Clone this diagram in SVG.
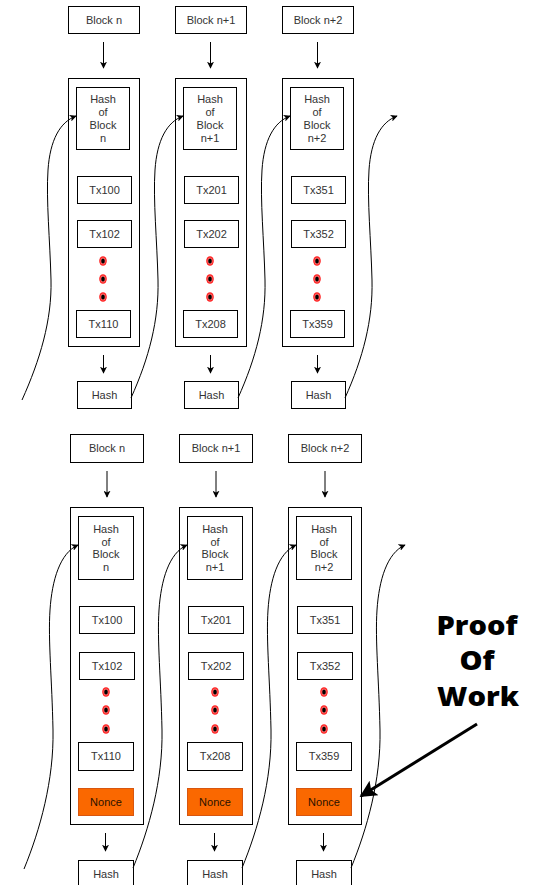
<svg xmlns="http://www.w3.org/2000/svg" width="539" height="885" viewBox="0 0 539 885">
  <defs>
    <style>
      .box { fill: #ffffff; stroke: #000000; stroke-width: 1; }
      .nonce { fill: #fa6800; stroke: #d8560f; stroke-width: 1; }
      .lbl { font-family: "Liberation Sans", Arial, sans-serif; font-size: 11px; fill: #333333; text-anchor: middle; }
      .nlbl { font-family: "Liberation Sans", Arial, sans-serif; font-size: 11px; fill: #2a1200; text-anchor: middle; }
      .arr { fill: none; stroke: #000000; stroke-width: 1; marker-end: url(#head); }
      .link { fill: none; stroke: #000000; stroke-width: 1; marker-end: url(#head); }
      .pow { font-family: "Open Sans", "Noto Sans", sans-serif; font-weight: 800; font-size: 27px; fill: #000000; text-anchor: middle; }
    </style>
    <marker id="head" viewBox="0 0 10 10" refX="9" refY="5" markerWidth="7" markerHeight="7" markerUnits="userSpaceOnUse" orient="auto">
      <path d="M0,0 L10,5 L0,10 L2.5,5 Z" fill="#000000"/>
    </marker>
    <marker id="bighead" viewBox="0 0 10 10" refX="9" refY="5" markerWidth="19" markerHeight="17" markerUnits="userSpaceOnUse" orient="auto">
      <path d="M0,0 L10,5 L0,10 L2,5 Z" fill="#000000"/>
    </marker>
    <!-- ellipsis dot: red ring around a black core -->
    <g id="dot">
      <ellipse cx="0" cy="0" rx="3.8" ry="4.8" fill="#ff2020"/>
      <ellipse cx="0" cy="0" rx="2.6" ry="3.5" fill="#ffffff" opacity="0.35"/>
      <ellipse cx="0" cy="0" rx="1.8" ry="2.6" fill="#000000"/>
    </g>
  </defs>

  <!-- ===== Upper chain (without nonce) ===== -->
  <g id="top-block-n" transform="translate(68,0)">
    <rect class="box" x="0.5" y="6.5" width="71" height="27"/>
    <text class="lbl" x="36" y="23.5">Block n</text>
    <path class="arr" d="M35.5,42 L35.5,68"/>
    <rect class="box" x="0.5" y="78.5" width="71" height="268"/>
    <rect class="box" x="8.5" y="87.5" width="53" height="62"/>
    <text class="lbl" x="35" y="103">Hash</text>
    <text class="lbl" x="35" y="116">of</text>
    <text class="lbl" x="35" y="129">Block</text>
    <text class="lbl" x="35" y="141.5">n</text>
    <rect class="box" x="9.5" y="176.5" width="54" height="27"/>
    <text class="lbl" x="36.5" y="193.5">Tx100</text>
    <rect class="box" x="9.5" y="220.5" width="54" height="27"/>
    <text class="lbl" x="36.5" y="238">Tx102</text>
    <use href="#dot" x="35" y="261"/>
    <use href="#dot" x="35" y="279"/>
    <use href="#dot" x="35" y="297"/>
    <rect class="box" x="8.5" y="310.5" width="54" height="27"/>
    <text class="lbl" x="35.5" y="327.5">Tx110</text>
    <path class="arr" d="M35.5,355 L35.5,373"/>
    <rect class="box" x="9.5" y="381.5" width="54" height="27"/>
    <text class="lbl" x="36.5" y="399">Hash</text>
  </g>

  <g id="top-block-n1" transform="translate(175,0)">
    <rect class="box" x="0.5" y="6.5" width="71" height="27"/>
    <text class="lbl" x="36" y="23.5">Block n+1</text>
    <path class="arr" d="M35.5,42 L35.5,68"/>
    <rect class="box" x="0.5" y="78.5" width="71" height="268"/>
    <rect class="box" x="8.5" y="87.5" width="53" height="62"/>
    <text class="lbl" x="35" y="103">Hash</text>
    <text class="lbl" x="35" y="116">of</text>
    <text class="lbl" x="35" y="129">Block</text>
    <text class="lbl" x="35" y="141.5">n+1</text>
    <rect class="box" x="9.5" y="176.5" width="54" height="27"/>
    <text class="lbl" x="36.5" y="193.5">Tx201</text>
    <rect class="box" x="9.5" y="220.5" width="54" height="27"/>
    <text class="lbl" x="36.5" y="238">Tx202</text>
    <use href="#dot" x="35" y="261"/>
    <use href="#dot" x="35" y="279"/>
    <use href="#dot" x="35" y="297"/>
    <rect class="box" x="8.5" y="310.5" width="54" height="27"/>
    <text class="lbl" x="35.5" y="327.5">Tx208</text>
    <path class="arr" d="M35.5,355 L35.5,373"/>
    <rect class="box" x="9.5" y="381.5" width="54" height="27"/>
    <text class="lbl" x="36.5" y="399">Hash</text>
  </g>

  <g id="top-block-n2" transform="translate(282,0)">
    <rect class="box" x="0.5" y="6.5" width="71" height="27"/>
    <text class="lbl" x="36" y="23.5">Block n+2</text>
    <path class="arr" d="M35.5,42 L35.5,68"/>
    <rect class="box" x="0.5" y="78.5" width="71" height="268"/>
    <rect class="box" x="8.5" y="87.5" width="53" height="62"/>
    <text class="lbl" x="35" y="103">Hash</text>
    <text class="lbl" x="35" y="116">of</text>
    <text class="lbl" x="35" y="129">Block</text>
    <text class="lbl" x="35" y="141.5">n+2</text>
    <rect class="box" x="9.5" y="176.5" width="54" height="27"/>
    <text class="lbl" x="36.5" y="193.5">Tx351</text>
    <rect class="box" x="9.5" y="220.5" width="54" height="27"/>
    <text class="lbl" x="36.5" y="238">Tx352</text>
    <use href="#dot" x="35" y="261"/>
    <use href="#dot" x="35" y="279"/>
    <use href="#dot" x="35" y="297"/>
    <rect class="box" x="8.5" y="310.5" width="54" height="27"/>
    <text class="lbl" x="35.5" y="327.5">Tx359</text>
    <path class="arr" d="M35.5,355 L35.5,373"/>
    <rect class="box" x="9.5" y="381.5" width="54" height="27"/>
    <text class="lbl" x="36.5" y="399">Hash</text>
  </g>

  <!-- ===== Lower chain (with nonce) ===== -->
  <g id="bottom-block-n" transform="translate(70,0)">
    <rect class="box" x="0.5" y="434.5" width="73" height="28"/>
    <text class="lbl" x="37" y="452">Block n</text>
    <path class="arr" d="M37,471 L37,497"/>
    <rect class="box" x="0.5" y="507.5" width="73" height="317"/>
    <rect class="box" x="8.5" y="516.5" width="55" height="63"/>
    <text class="lbl" x="36" y="533">Hash</text>
    <text class="lbl" x="36" y="545.5">of</text>
    <text class="lbl" x="36" y="558">Block</text>
    <text class="lbl" x="36" y="571">n</text>
    <rect class="box" x="9.5" y="606.5" width="55" height="27"/>
    <text class="lbl" x="37" y="624">Tx100</text>
    <rect class="box" x="9.5" y="652.5" width="55" height="27"/>
    <text class="lbl" x="37" y="670">Tx102</text>
    <use href="#dot" x="36" y="692"/>
    <use href="#dot" x="36" y="710"/>
    <use href="#dot" x="36" y="729"/>
    <rect class="box" x="8.5" y="742.5" width="55" height="28"/>
    <text class="lbl" x="36" y="760">Tx110</text>
    <rect class="nonce" x="8.5" y="788.5" width="55" height="27"/>
    <text class="nlbl" x="36" y="806">Nonce</text>
    <path class="arr" d="M35.5,833 L35.5,851"/>
    <rect class="box" x="8.5" y="860.5" width="55" height="28"/>
    <text class="lbl" x="36" y="878">Hash</text>
  </g>

  <g id="bottom-block-n1" transform="translate(179,0)">
    <rect class="box" x="0.5" y="434.5" width="73" height="28"/>
    <text class="lbl" x="37" y="452">Block n+1</text>
    <path class="arr" d="M37,471 L37,497"/>
    <rect class="box" x="0.5" y="507.5" width="73" height="317"/>
    <rect class="box" x="8.5" y="516.5" width="55" height="63"/>
    <text class="lbl" x="36" y="533">Hash</text>
    <text class="lbl" x="36" y="545.5">of</text>
    <text class="lbl" x="36" y="558">Block</text>
    <text class="lbl" x="36" y="571">n+1</text>
    <rect class="box" x="9.5" y="606.5" width="55" height="27"/>
    <text class="lbl" x="37" y="624">Tx201</text>
    <rect class="box" x="9.5" y="652.5" width="55" height="27"/>
    <text class="lbl" x="37" y="670">Tx202</text>
    <use href="#dot" x="36" y="692"/>
    <use href="#dot" x="36" y="710"/>
    <use href="#dot" x="36" y="729"/>
    <rect class="box" x="8.5" y="742.5" width="55" height="28"/>
    <text class="lbl" x="36" y="760">Tx208</text>
    <rect class="nonce" x="8.5" y="788.5" width="55" height="27"/>
    <text class="nlbl" x="36" y="806">Nonce</text>
    <path class="arr" d="M35.5,833 L35.5,851"/>
    <rect class="box" x="8.5" y="860.5" width="55" height="28"/>
    <text class="lbl" x="36" y="878">Hash</text>
  </g>

  <g id="bottom-block-n2" transform="translate(288,0)">
    <rect class="box" x="0.5" y="434.5" width="73" height="28"/>
    <text class="lbl" x="37" y="452">Block n+2</text>
    <path class="arr" d="M37,471 L37,497"/>
    <rect class="box" x="0.5" y="507.5" width="73" height="317"/>
    <rect class="box" x="8.5" y="516.5" width="55" height="63"/>
    <text class="lbl" x="36" y="533">Hash</text>
    <text class="lbl" x="36" y="545.5">of</text>
    <text class="lbl" x="36" y="558">Block</text>
    <text class="lbl" x="36" y="571">n+2</text>
    <rect class="box" x="9.5" y="606.5" width="55" height="27"/>
    <text class="lbl" x="37" y="624">Tx351</text>
    <rect class="box" x="9.5" y="652.5" width="55" height="27"/>
    <text class="lbl" x="37" y="670">Tx352</text>
    <use href="#dot" x="36" y="692"/>
    <use href="#dot" x="36" y="710"/>
    <use href="#dot" x="36" y="729"/>
    <rect class="box" x="8.5" y="742.5" width="55" height="28"/>
    <text class="lbl" x="36" y="760">Tx359</text>
    <rect class="nonce" x="8.5" y="788.5" width="55" height="27"/>
    <text class="nlbl" x="36" y="806">Nonce</text>
    <path class="arr" d="M35.5,833 L35.5,851"/>
    <rect class="box" x="8.5" y="860.5" width="55" height="28"/>
    <text class="lbl" x="36" y="878">Hash</text>
  </g>

  <!-- ===== Hash links between consecutive blocks ===== -->
  <g id="connectors">
    <!-- upper chain -->
    <path class="link" d="M22,400 C40,360 52,320 51,280 C50,240 46,200 48,170 C50,140 60,122 76,116"/>
    <path class="link" d="M131,398 C149,358 159,320 158,280 C157,240 153,200 155,170 C157,140 167,122 183,116"/>
    <path class="link" d="M238,398 C256,358 266,320 265,280 C264,240 260,200 262,170 C264,140 274,122 290,116"/>
    <path class="link" d="M345,398 C363,358 373,320 372,280 C371,240 367,200 369,170 C371,140 381,122 397,116"/>
    <!-- lower chain -->
    <path class="link" d="M24,869 C40,830 54,780 53,730 C52,680 48,640 50,610 C52,580 60,553 78,545"/>
    <path class="link" d="M133,868 C149,829 163,780 162,730 C161,680 157,640 159,610 C161,580 169,553 187,545"/>
    <path class="link" d="M242,868 C258,829 272,780 271,730 C270,680 266,640 268,610 C270,580 278,553 296,545"/>
    <path class="link" d="M351,868 C367,829 381,780 380,730 C379,680 375,640 377,610 C379,580 387,553 405,545"/>
  </g>

  <!-- ===== Proof of Work callout ===== -->
  <g id="proof-of-work">
    <text class="pow" x="477" y="635" textLength="81" lengthAdjust="spacingAndGlyphs">Proof</text>
    <text class="pow" x="477" y="670" textLength="35" lengthAdjust="spacingAndGlyphs">Of</text>
    <text class="pow" x="478" y="706" textLength="82" lengthAdjust="spacingAndGlyphs">Work</text>
    <path d="M477,724 L361,796" fill="none" stroke="#000000" stroke-width="3" marker-end="url(#bighead)"/>
  </g>
</svg>
